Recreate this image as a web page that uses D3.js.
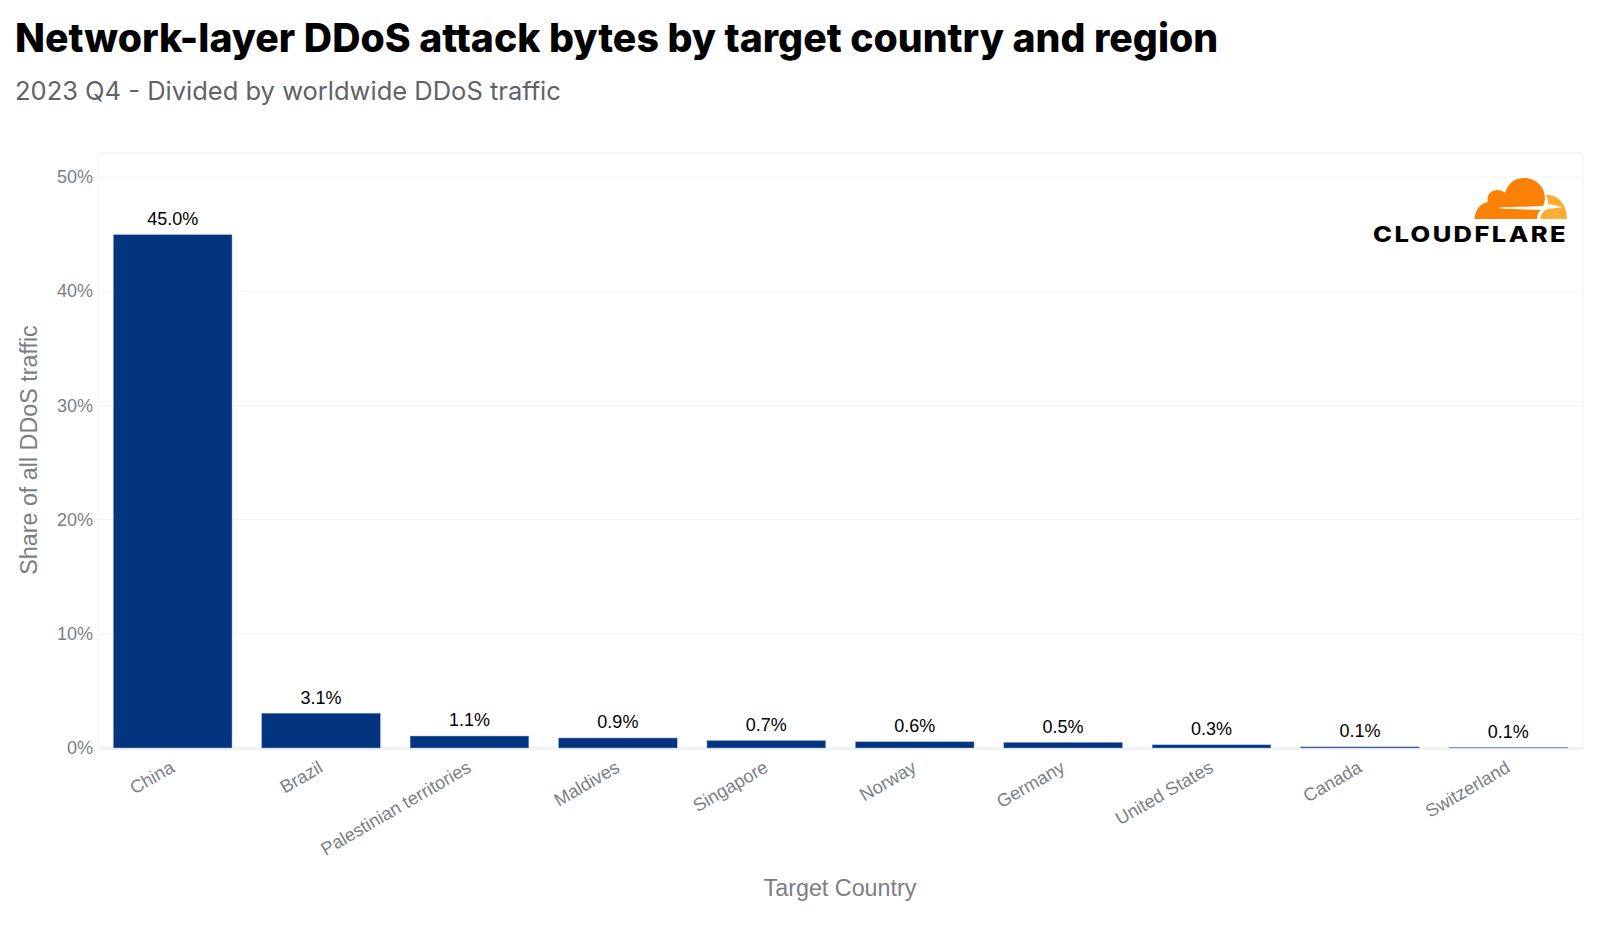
<!DOCTYPE html>
<html>
  <head>
    <meta charset="utf-8" />
    <title>Network-layer DDoS attack bytes by target country and region</title>
    <style>
      html, body { margin: 0; padding: 0; background: #fff; }
      svg { display: block; }
      text { font-family: Inter, "Liberation Sans", sans-serif; }
      .hel { font-family: "Liberation Sans", sans-serif; }
    </style>
  </head>
  <body>
    <div id="chart"></div>
    <script src="https://d3js.org/d3.v7.min.js"></script>
    <script>
var countries = ["China", "Brazil", "Palestinian territories", "Maldives", "Singapore",
  "Norway", "Germany", "United States", "Canada", "Switzerland"];
var shares = [45.0, 3.1, 1.1, 0.9, 0.7, 0.6, 0.5, 0.3, 0.1, 0.1];
var barHeights = [44.95, 3.05, 1.05, 0.88, 0.66, 0.55, 0.5, 0.28, 0.1, 0.07];
var yTicks = [0, 10, 20, 30, 40, 50];

var width = 1600, height = 936;
var left = 98, right = 1583, top_ = 153, bottom = 748;

var svg = d3.select("#chart").append("svg")
  .attr("width", width)
  .attr("height", height);

var x = d3.scaleBand().domain(countries).range([left, right])
  .paddingInner(0.2).paddingOuter(0.103);
var y = d3.scaleLinear().domain([0, 52.1]).range([bottom, top_]);

// titles
svg.append("text").attr("x", 15).attr("y", 52)
  .attr("font-size", 39.2).attr("font-weight", 800).attr("fill", "#000")
  .text("Network-layer DDoS attack bytes by target country and region");
svg.append("text").attr("x", 15).attr("y", 100)
  .attr("font-size", 25.5).attr("fill", "#5f6368")
  .text("2023 Q4 - Divided by worldwide DDoS traffic");

// frame and grid
svg.append("rect").attr("x", left).attr("y", top_)
  .attr("width", right - left).attr("height", bottom - top_)
  .attr("fill", "none").attr("stroke", "#f2f2f2").attr("stroke-width", 1);

svg.append("g").selectAll("line").data(yTicks.slice(1)).join("line")
  .attr("x1", left).attr("x2", right)
  .attr("y1", function(d) { return y(d); })
  .attr("y2", function(d) { return y(d); })
  .attr("stroke", "#f2f2f2");

svg.append("line").attr("x1", left).attr("x2", right)
  .attr("y1", bottom + 0.5).attr("y2", bottom + 0.5)
  .attr("stroke", "#f2f2f2").attr("stroke-width", 3);

// y axis
var yAxis = d3.axisLeft(y).tickValues(yTicks).tickSize(0).tickPadding(5)
  .tickFormat(function(d) { return d + "%"; });
var gy = svg.append("g").attr("transform", "translate(" + left + ",0)").call(yAxis);
gy.select(".domain").remove();
gy.selectAll("text").attr("class", "hel").attr("font-size", 18).attr("fill", "#7b7f85");

// bars
svg.append("g").selectAll("rect").data(countries).join("rect")
  .attr("x", function(d) { return x(d); })
  .attr("width", x.bandwidth())
  .attr("y", function(d, i) { return y(barHeights[i]); })
  .attr("height", function(d, i) { return bottom - y(barHeights[i]); })
  .attr("fill", "#03347f")
  .attr("stroke", "#9fb3d9").attr("stroke-width", 0.5);

// value labels
svg.append("g").selectAll("text").data(countries).join("text")
  .attr("class", "hel")
  .attr("x", function(d) { return x(d) + x.bandwidth() / 2; })
  .attr("y", function(d, i) { return y(barHeights[i]) - 9.6; })
  .attr("text-anchor", "middle")
  .attr("font-size", 18).attr("fill", "#000")
  .text(function(d, i) { return shares[i].toFixed(1) + "%"; });

// x axis
var xAxis = d3.axisBottom(x).tickSize(0).tickPadding(0);
var gx = svg.append("g").attr("transform", "translate(0," + bottom + ")").call(xAxis);
gx.select(".domain").remove();
gx.selectAll("text")
  .attr("class", "hel")
  .attr("font-size", 18.2).attr("fill", "#7b7f85")
  .attr("text-anchor", "end")
  .attr("dy", 0)
  .attr("transform", "translate(3,23) rotate(-30)");

// axis titles
svg.append("text").attr("class", "hel")
  .attr("transform", "translate(37,450) rotate(-90)")
  .attr("text-anchor", "middle").attr("font-size", 23.3).attr("fill", "#7b7f85")
  .text("Share of all DDoS traffic");
svg.append("text").attr("class", "hel")
  .attr("x", 840).attr("y", 896)
  .attr("text-anchor", "middle").attr("font-size", 23.3).attr("fill", "#7b7f85")
  .text("Target Country");

// logo
var logo = svg.append("g");
logo.append("path").attr("fill", "#fb8106")
  .attr("d", "M1474.5 219 C1475 209 1481 203 1488 202 C1486 195 1491 190 1497 190 C1500 190 1503 191 1505 193 C1508 183 1515 178 1524 178 C1536 178 1545 187 1545 198 C1545 201 1544 204 1543 206 L1499 207.5 L1499 208.5 L1541 210 C1538 212 1537 215 1537 219 Z");
logo.append("path").attr("fill", "#fdad33")
  .attr("d", "M1540 219 C1541 214 1544 210 1548 209 L1563 207 L1548 204 C1548 201 1547 198 1546 195 C1558 194 1567 204 1567 219 Z");
logo.append("text").attr("x", 1373).attr("y", 242)
  .attr("font-size", 21).attr("font-weight", 800).attr("fill", "#000")
  .attr("textLength", 195).attr("lengthAdjust", "spacingAndGlyphs")
  .attr("letter-spacing", 2)
  .text("CLOUDFLARE");
    </script>
  </body>
</html>
